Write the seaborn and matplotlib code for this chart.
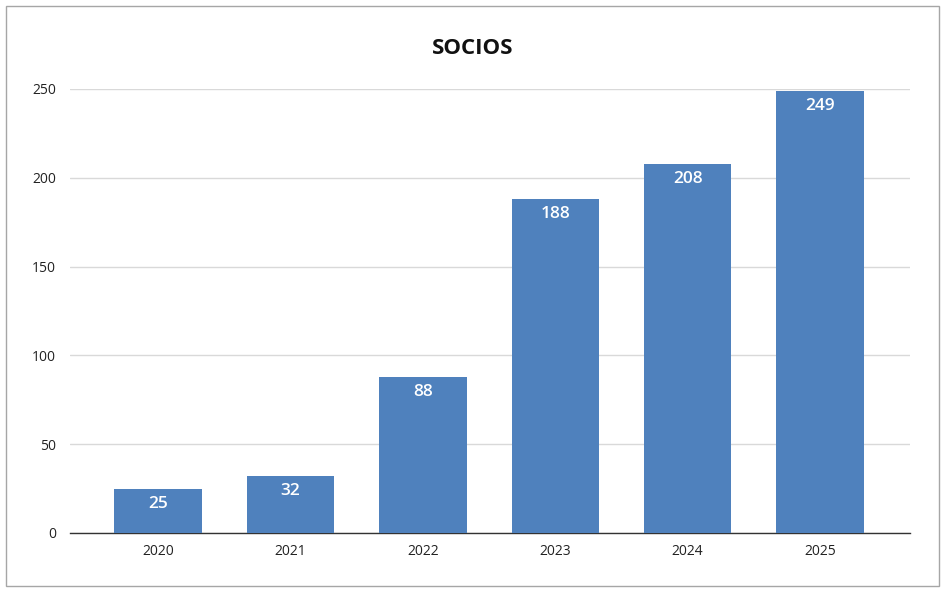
import matplotlib
matplotlib.use("Agg")
import matplotlib.pyplot as plt
import seaborn as sns
import pandas as pd
from matplotlib.patches import Rectangle

years = ["2020", "2021", "2022", "2023", "2024", "2025"]
socios = [25, 32, 88, 188, 208, 249]
yticks = [0, 50, 100, 150, 200, 250]
title = "SOCIOS"

df = pd.DataFrame({"year": years, "socios": socios})

sns.set_theme(style="white")
plt.rcParams["font.family"] = ["Open Sans", "DejaVu Sans"]

fig = plt.figure(figsize=(9.46, 5.94), dpi=100)
ax = fig.add_axes([70/946, 1-533/594, 840/946, 444/594])

sns.barplot(data=df, x="year", y="socios", color="#4f81bd", saturation=1,
            width=0.66, ax=ax, zorder=3, edgecolor="none", linewidth=0)

ax.set_ylim(0, 250)
ax.set_yticks(yticks)
ax.set_xlim(-0.665, 5.68)
ax.yaxis.grid(True, color="#d9d9d9", linewidth=1, zorder=0)
ax.set_axisbelow(True)
for s in ["top", "right", "left"]:
    ax.spines[s].set_visible(False)
ax.spines["bottom"].set_color("#333333")
ax.spines["bottom"].set_linewidth(1)
ax.tick_params(axis="both", length=0, labelsize=10, colors="#222222")
ax.tick_params(axis="y", pad=10)
ax.tick_params(axis="x", pad=8)
ax.set_xlabel("")
ax.set_ylabel("")

for i, v in enumerate(socios):
    ax.annotate(str(v), (i, v), xytext=(0, -15), textcoords="offset pixels",
                ha="center", va="center", color="white", fontsize=12.5,
                fontweight="semibold", zorder=5)

fig.text(473/946, 1-49/594, title, ha="center", va="center",
         fontsize=16, fontweight="bold", color="#111111")

fig.patches.append(Rectangle((6/946, 1-586/594), 933/946, 580/594,
                             transform=fig.transFigure, fill=False,
                             edgecolor="#a6a6a6", linewidth=1))

fig.savefig("out.png", dpi=100, facecolor="white")
